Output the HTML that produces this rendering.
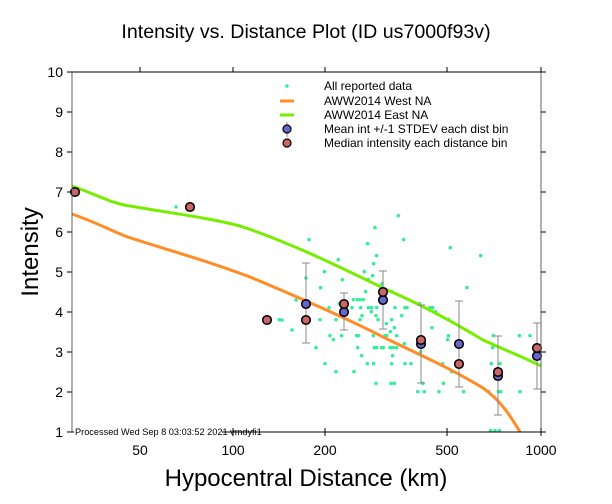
<!DOCTYPE html>
<html><head><meta charset="utf-8"><style>
body{margin:0;background:#fff}
svg{display:block;font-family:"Liberation Sans",sans-serif}
</style></head><body>
<svg id="s" width="612" height="504" viewBox="0 0 612 504" xmlns="http://www.w3.org/2000/svg">
<rect width="612" height="504" fill="#fff"/>
<text x="306" y="38" font-size="19.6" text-anchor="middle">Intensity vs. Distance Plot (ID us7000f93v)</text>
<text transform="translate(38,252) rotate(-90)" font-size="24" text-anchor="middle">Intensity</text>
<text x="306" y="486" font-size="24" text-anchor="middle">Hypocentral Distance (km)</text>
<g id="dots" fill="#33ee99"></g>
<path fill="none" stroke="#ff8c26" stroke-width="3" d="M72,214 C95,222 110,230 125,236 C160,248 200,258 250,277 C300,298 350,320 383,337 C420,355 450,368 483,388 C500,400 510,415 520,432"/>
<path fill="none" stroke="#77ee00" stroke-width="3" d="M72,186 C95,194 110,203 130,206 C170,213 210,218 240,226 C283,240 330,262 383,288 C420,304 450,320 483,340 C505,350 525,358 541,366"/>
<g id="err" stroke="#888" stroke-width="1"></g>
<g id="pts" stroke="#000" stroke-width="1.5"></g>
<g stroke="#000" fill="none" stroke-width="1">
<line x1="72" y1="72" x2="72" y2="432" stroke="#666"/>
<line x1="541" y1="72" x2="541" y2="432" stroke="#666"/>
<line x1="72" y1="432" x2="541" y2="432"/>
<line x1="72" y1="72" x2="541" y2="72"/>
</g>
<g id="ticks" stroke="#000"></g>
<g font-size="14" text-anchor="end" id="yl"></g>
<g font-size="14" text-anchor="middle">
<text x="140" y="455">50</text><text x="233" y="455">100</text><text x="325" y="455">200</text><text x="447" y="455">500</text><text x="541" y="455">1000</text>
</g>
<rect x="74" y="426" width="148" height="10" fill="#fff"/>
<text x="75" y="435" font-size="9.2">Processed Wed Sep  8 03:03:52 2021 vmdyfi1</text>
<g font-size="12">
<circle cx="287" cy="86" r="1.8" fill="#33ee99"/>
<text x="324" y="90">All reported data</text>
<line x1="280" y1="101" x2="294" y2="101" stroke="#ff8c26" stroke-width="3"/>
<text x="324" y="105">AWW2014 West NA</text>
<line x1="280" y1="115" x2="294" y2="115" stroke="#77ee00" stroke-width="3"/>
<text x="324" y="119">AWW2014 East NA</text>
<line x1="287" y1="122" x2="287" y2="137" stroke="#888"/>
<circle cx="287" cy="129" r="4" fill="#6666cc" stroke="#000" stroke-width="1.2"/>
<text x="324" y="133">Mean int +/-1 STDEV each dist bin</text>
<circle cx="287" cy="143" r="4" fill="#cc6666" stroke="#000" stroke-width="1.2"/>
<text x="324" y="147">Median intensity each distance bin</text>
</g>
<script>
var N="http://www.w3.org/2000/svg";
function el(p,t,a){var e=document.createElementNS(N,t);for(var k in a)e.setAttribute(k,a[k]);document.getElementById(p).appendChild(e);return e;}
var z=[[445,47],[375,83],[177,119],[461,119],[353,131],[601,143],[692,167],[380,167],[265,179],[371,191],[223,215],[343,215],[368,227],[277,239],[350,239],[355,239],[396,251],[212,263],[347,275],[425,275],[651,263],[310,299],[322,299],[330,299],[340,299],[268,311],[509,311],[237,323],[306,323],[332,323],[355,323],[365,323],[380,323],[435,323],[465,323],[471,323],[540,323],[548,323],[557,335],[336,347],[364,335],[378,347],[455,347],[210,359],[88,359],[258,359],[330,359],[384,359],[425,359],[596,359],[409,371],[546,383],[433,383],[421,395],[240,407],[275,407],[320,407],[325,407],[370,407],[405,407],[410,407],[440,407],[595,407],[730,407],[808,407],[840,407],[250,419],[593,419],[463,431],[373,443],[380,443],[395,443],[400,443],[420,443],[424,443],[430,443],[440,443],[198,443],[323,443],[728,443],[512,455],[335,467],[428,467],[225,491],[352,491],[371,491],[425,491],[465,491],[483,491],[578,491],[636,491],[724,491],[750,491],[258,515],[312,515],[605,515],[378,550],[423,550],[433,550],[580,550],[518,550],[503,575],[523,575],[567,575],[641,575],[716,575],[745,575],[752,575],[810,575],[722,692],[735,692],[748,692]];
z.forEach(function(p){el("dots","circle",{cx:250+p[0]/3,cy:200+p[1]/3,r:1.8});});
[[176,207],[282,320],[306,278],[296,300],[292,330]].forEach(function(p){el("dots","circle",{cx:p[0],cy:p[1],r:1.8});});
var b=[[306,304,320,263,343],[344,312,304,293,330],[383,300,292,271,329],[421,344,340,305,383],[459,344,364,301,387],[498,376,372,336,415],[537,356,348,323,389]];
b.forEach(function(q){el("err","line",{x1:q[0],y1:q[3],x2:q[0],y2:q[4]});el("err","line",{x1:q[0]-4,y1:q[3],x2:q[0]+4,y2:q[3]});el("err","line",{x1:q[0]-4,y1:q[4],x2:q[0]+4,y2:q[4]});});
b.forEach(function(q){el("pts","circle",{cx:q[0],cy:q[1],r:4.3,fill:"#6666cc"});el("pts","circle",{cx:q[0],cy:q[2],r:4.3,fill:"#cc6666"});});
[[75,192],[190,207],[267,320]].forEach(function(p){el("pts","circle",{cx:p[0],cy:p[1],r:4.3,fill:"#cc6666"});});
for(var i=1;i<=10;i++){var y=432-(i-1)*40;el("ticks","line",{x1:67,y1:y,x2:72,y2:y});el("ticks","line",{x1:541,y1:y,x2:546,y2:y});var t=el("yl","text",{x:63,y:y+5});t.textContent=i;}
[140,233,325,447,541].forEach(function(x){el("ticks","line",{x1:x,y1:436,x2:x,y2:428});el("ticks","line",{x1:x,y1:67,x2:x,y2:72});});
</script>
</svg>
</body></html>
